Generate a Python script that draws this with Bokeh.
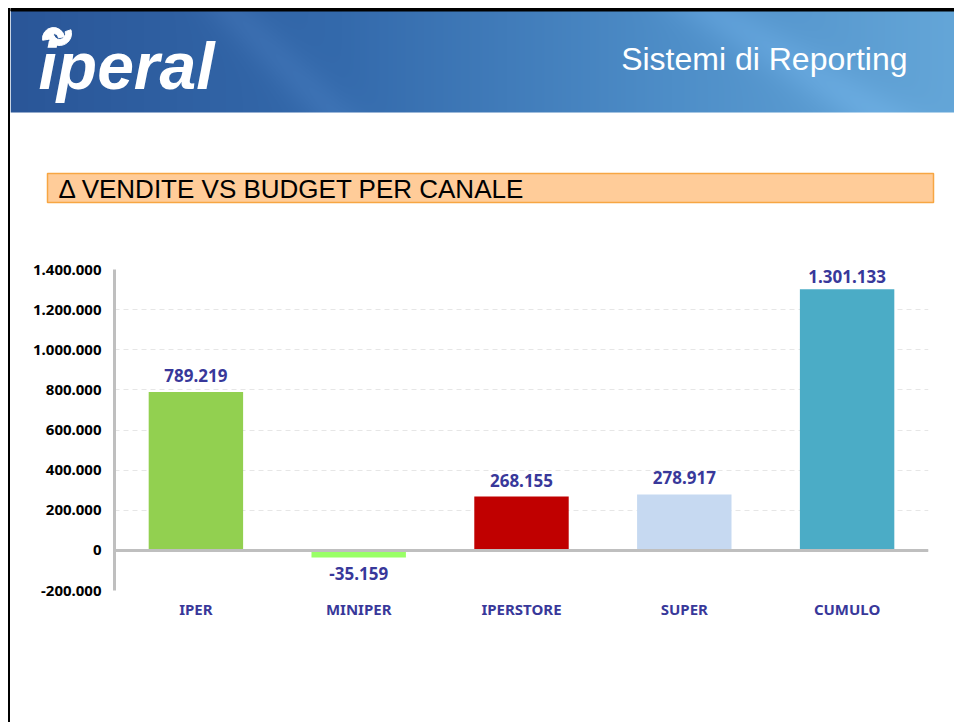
import numpy as np
from bokeh.plotting import figure
from bokeh.models import Range1d, Span, ColumnDataSource, LabelSet, Div, FixedTicker
from bokeh.layouts import row, column
from bokeh.core.properties import value
from bokeh.embed import file_html
from bokeh.resources import INLINE

# ---- data ----
categories = ["IPER", "MINIPER", "IPERSTORE", "SUPER", "CUMULO"]
deltas = [789219, -35159, 268155, 278917, 1301133]
bar_colors = ["#92D050", "#99FF66", "#C00000", "#C6D9F1", "#4BACC6"]
y_ticks = [-200000, 0, 200000, 400000, 600000, 800000, 1000000, 1200000, 1400000]
chart_title = "\u0394 VENDITE VS BUDGET PER CANALE"
header_title = "Sistemi di Reporting"
logo_text = "iperal"


def it_fmt(v):
    return f"{v:,}".replace(",", ".")


NAVY = "#38389A"
W = 944
HH = 253
FRAME_H = 321

# ---- header figure ----
hdr = figure(width=W, height=HH, x_range=Range1d(0, W), y_range=Range1d(HH, 0),
             toolbar_location=None, output_backend="svg",
             x_axis_location=None, y_axis_location=None, min_border=0,
             outline_line_color=None)
hdr.grid.visible = False
hdr.background_fill_color = "white"

# banner gradient
bh, bw = 102, W
xx = np.arange(bw)[None, :] * np.ones((bh, 1))
yy = np.arange(bh)[:, None] * np.ones((1, bw))
t = xx / bw
r = np.interp(t, [0, 0.35, 0.7, 1.0], [42, 52, 78, 100])
g = np.interp(t, [0, 0.35, 0.7, 1.0], [86, 106, 142, 166])
b = np.interp(t, [0, 0.35, 0.7, 1.0], [152, 172, 200, 216])
streak = (np.exp(-((xx - (220 + 1.0 * yy)) / 30.0) ** 2) * 9
          + np.exp(-((xx - (700 + 1.6 * yy)) / 45.0) ** 2) * 12)
r = np.clip(r + streak, 0, 255)
g = np.clip(g + streak, 0, 255)
b = np.clip(b + streak, 0, 255)
img = np.empty((bh, bw), dtype=np.uint32)
view = img.view(dtype=np.uint8).reshape((bh, bw, 4))
view[:, :, 0] = r.astype(np.uint8)
view[:, :, 1] = g.astype(np.uint8)
view[:, :, 2] = b.astype(np.uint8)
view[:, :, 3] = 255
hdr.image_rgba(image=[img], x=0, y=10, dw=bw, dh=bh)

# top black border
hdr.quad(left=0, right=W, top=8, bottom=10.5, color="black")

# logo swirl + text
hdr.annular_wedge(x=[49], y=[33], inner_radius=6, outer_radius=12,
                  start_angle=np.pi * 0.95, end_angle=np.pi * 2.1, color="white")
hdr.annular_wedge(x=[43], y=[38], inner_radius=5, outer_radius=11,
                  start_angle=np.pi * 0.05, end_angle=np.pi * 1.05, color="white")
hdr.text(x=[28], y=[65], text=[logo_text], text_font=value("Liberation Sans"),
         text_font_style="bold italic", text_font_size="66px", text_color="white",
         text_baseline="middle")

# header title
hdr.text(x=[897], y=[58], text=[header_title], text_font=value("Liberation Sans"),
         text_font_size="32px", text_color="white", text_align="right",
         text_baseline="middle")

# orange title box
hdr.quad(left=37, right=923, top=173, bottom=202, fill_color="#FFCC99",
         line_color="#F7A643", line_width=1.5)
hdr.text(x=[48], y=[188], text=[chart_title], text_font=value("Liberation Sans"),
         text_font_size="26px", text_color="black", text_baseline="middle")

# ---- chart figure ----
src = ColumnDataSource(dict(cat=categories, val=deltas, color=bar_colors))

px_per_unit = FRAME_H / (y_ticks[-1] - y_ticks[0])
pos_idx = [i for i, v in enumerate(deltas) if v >= 0]
neg_idx = [i for i, v in enumerate(deltas) if v < 0]
pos_src = ColumnDataSource(dict(
    cat=[categories[i] for i in pos_idx],
    val=[deltas[i] for i in pos_idx],
    label=[it_fmt(deltas[i]) for i in pos_idx],
    off=[min(10.0, (y_ticks[-1] - deltas[i]) * px_per_unit - 13) for i in pos_idx]))
neg_src = ColumnDataSource(dict(
    cat=[categories[i] for i in neg_idx],
    val=[deltas[i] for i in neg_idx],
    label=[it_fmt(deltas[i]) for i in neg_idx],
    off=[-10.0 for i in neg_idx]))

p = figure(width=W, height=722 - HH, x_range=categories,
           y_range=Range1d(y_ticks[0], y_ticks[-1]),
           toolbar_location=None, output_backend="svg",
           min_border_left=104, min_border_right=26, min_border_top=16,
           min_border_bottom=722 - HH - 16 - FRAME_H, outline_line_color=None)

for fig in (hdr, p):
    try:
        fig.frame_align = False
    except Exception:
        pass

p.vbar(x="cat", top="val", width=0.58, fill_color="color", line_color=None, source=src)

p.add_layout(Span(location=0, dimension="width", line_color="#BFBFBF", line_width=3))

for s, base in ((pos_src, "bottom"), (neg_src, "top")):
    p.add_layout(LabelSet(x="cat", y="val", text="label", source=s,
                          text_align="center", text_baseline=base, y_offset="off",
                          text_font=value("Noto Sans"), text_font_style="bold",
                          text_font_size="17px", text_color=NAVY))

# y axis
p.yaxis.ticker = FixedTicker(ticks=y_ticks)
p.yaxis.major_label_overrides = {t: it_fmt(t) for t in y_ticks}
p.yaxis.axis_line_color = "#BFBFBF"
p.yaxis.axis_line_width = 3
p.yaxis.major_tick_line_color = None
p.yaxis.major_tick_out = 0
p.yaxis.major_tick_in = 0
p.yaxis.minor_tick_line_color = None
p.yaxis.major_label_standoff = 13
p.yaxis.major_label_text_font = "Noto Sans"
p.yaxis.major_label_text_font_style = "bold"
p.yaxis.major_label_text_font_size = "15px"
p.yaxis.major_label_text_color = "black"

# x axis
p.xaxis.axis_line_color = None
p.xaxis.major_tick_line_color = None
p.xaxis.major_tick_out = 0
p.xaxis.major_tick_in = 0
p.xaxis.minor_tick_line_color = None
p.xaxis.major_label_standoff = 8
p.xaxis.major_label_text_font = "Noto Sans"
p.xaxis.major_label_text_font_style = "bold"
p.xaxis.major_label_text_font_size = "15px"
p.xaxis.major_label_text_color = NAVY

# grid
p.xgrid.visible = False
p.ygrid.grid_line_color = "#E6E6E6"
p.ygrid.grid_line_dash = "5 4"
p.ygrid.grid_line_width = 1

left_border = Div(text="", width=2, height=714, margin=(8, 0, 0, 8),
                  styles={"background-color": "black"})

layout = row(left_border, column(hdr, p))

with open("out.html", "w") as f:
    f.write(file_html(layout, INLINE))
